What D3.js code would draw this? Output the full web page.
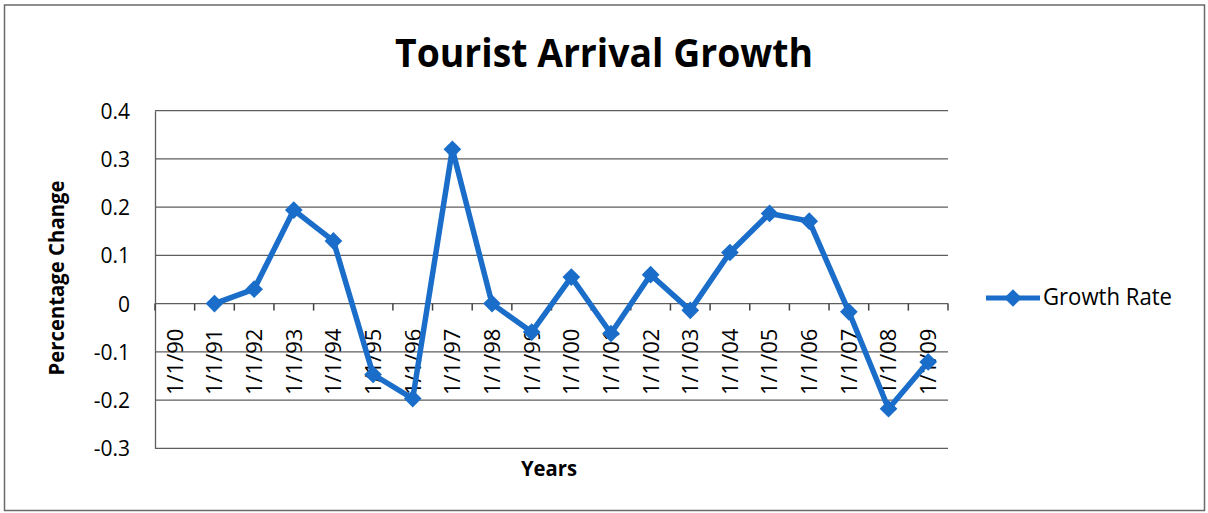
<!DOCTYPE html>
<html>
<head>
<meta charset="utf-8">
<script src="https://cdn.jsdelivr.net/npm/d3@7"></script>
<style>
  html, body { margin: 0; padding: 0; background: #fff; }
  svg { display: block; }
  text { font-family: "Open Sans", "Noto Sans", sans-serif; fill: #000; }
</style>
</head>
<body>
<svg id="chart" width="1208" height="513"></svg>
<script>
// Year categories shown on the horizontal axis
const categories = ["1/1/90","1/1/91","1/1/92","1/1/93","1/1/94","1/1/95","1/1/96","1/1/97","1/1/98","1/1/99",
                    "1/1/00","1/1/01","1/1/02","1/1/03","1/1/04","1/1/05","1/1/06","1/1/07","1/1/08","1/1/09"];
// Year-on-year growth of tourist arrivals (no value for the first year)
const growthRate = [null, 0.0, 0.03, 0.194, 0.13, -0.147, -0.197, 0.32, 0.0, -0.059,
                    0.055, -0.062, 0.06, -0.014, 0.106, 0.187, 0.171, -0.017, -0.218, -0.121];
// Value axis ticks
const yTicks = [0.4, 0.3, 0.2, 0.1, 0, -0.1, -0.2, -0.3];

const seriesName = "Growth Rate";
const blue = "#1a6dc8";
const gridColor = "#5e5e5e";

const svg = d3.select("#chart");

// Outer chart frame
svg.append("rect")
  .attr("x", 4.5).attr("y", 5).attr("width", 1200).attr("height", 505.5)
  .attr("fill", "#fff").attr("stroke", "#6a6a6a").attr("stroke-width", 1.5);

const plot = { left: 155, right: 948, top: 110.7, bottom: 448.3 };

const x = d3.scaleBand().domain(categories).range([plot.left, plot.right]).padding(0);
const y = d3.scaleLinear().domain([-0.3, 0.4]).range([plot.bottom, plot.top]);

// Horizontal gridlines
svg.append("g").selectAll("line").data(yTicks).join("line")
  .attr("x1", plot.left).attr("x2", plot.right)
  .attr("y1", d => y(d)).attr("y2", d => y(d))
  .attr("stroke", gridColor).attr("stroke-width", 1.3);

// Value axis
const yAxis = svg.append("g")
  .attr("transform", `translate(${plot.left},0)`)
  .call(d3.axisLeft(y).tickValues(yTicks).tickSize(0).tickPadding(25).tickFormat(d => String(d)));
yAxis.select(".domain").attr("stroke", gridColor).attr("stroke-width", 1.3);
yAxis.selectAll("text").style("font-size", "21px").attr("fill", "#000")
  .style("font-family", "'Open Sans', sans-serif").attr("dy", "0.36em");

// Category axis line at zero, with tick marks between categories
const zeroY = y(0);
const boundaries = categories.map(c => x(c)).concat([plot.right]);
svg.append("g").selectAll("line").data(boundaries).join("line")
  .attr("x1", d => d).attr("x2", d => d)
  .attr("y1", zeroY).attr("y2", zeroY + 7)
  .attr("stroke", "#444").attr("stroke-width", 1.5);

// Rotated category labels
svg.append("g").selectAll("text").data(categories).join("text")
  .attr("transform", d => `translate(${x(d) + x.bandwidth() / 2},${zeroY + 25}) rotate(-90)`)
  .attr("text-anchor", "end")
  .attr("dy", "0.36em")
  .style("font-size", "22px")
  .text(d => d);

// Series line and diamond markers
const points = categories.map((c, i) => ({ c, v: growthRate[i] }));
const line = d3.line()
  .defined(d => d.v !== null)
  .x(d => x(d.c) + x.bandwidth() / 2)
  .y(d => y(d.v));

svg.append("path").datum(points)
  .attr("d", line)
  .attr("fill", "none").attr("stroke", blue)
  .attr("stroke-width", 5.5).attr("stroke-linejoin", "round");

const diamond = d3.symbol().type(d3.symbolDiamond2).size(200);
svg.append("g").selectAll("path").data(points.filter(d => d.v !== null)).join("path")
  .attr("transform", d => `translate(${x(d.c) + x.bandwidth() / 2},${y(d.v)})`)
  .attr("d", diamond)
  .attr("fill", blue);

// Title
svg.append("text")
  .attr("x", 604).attr("y", 67)
  .attr("text-anchor", "middle")
  .style("font-size", "40px").style("font-weight", "700")
  .attr("textLength", 418).attr("lengthAdjust", "spacingAndGlyphs")
  .text("Tourist Arrival Growth");

// Axis titles
svg.append("text")
  .attr("transform", "translate(64,278) rotate(-90)")
  .attr("text-anchor", "middle")
  .style("font-size", "21px").style("font-weight", "700")
  .attr("textLength", 195).attr("lengthAdjust", "spacingAndGlyphs")
  .text("Percentage Change");

svg.append("text")
  .attr("x", 549).attr("y", 476)
  .attr("text-anchor", "middle")
  .style("font-size", "21px").style("font-weight", "700")
  .attr("textLength", 56).attr("lengthAdjust", "spacingAndGlyphs")
  .text("Years");

// Legend
const legend = svg.append("g").attr("transform", "translate(986,298)");
legend.append("line").attr("x1", 0).attr("x2", 54).attr("y1", 0).attr("y2", 0)
  .attr("stroke", blue).attr("stroke-width", 5);
legend.append("path").attr("transform", "translate(27,0)").attr("d", diamond).attr("fill", blue);
legend.append("text").attr("x", 57).attr("y", 7)
  .style("font-size", "24px")
  .attr("textLength", 129).attr("lengthAdjust", "spacingAndGlyphs")
  .text(seriesName);
</script>
</body>
</html>
